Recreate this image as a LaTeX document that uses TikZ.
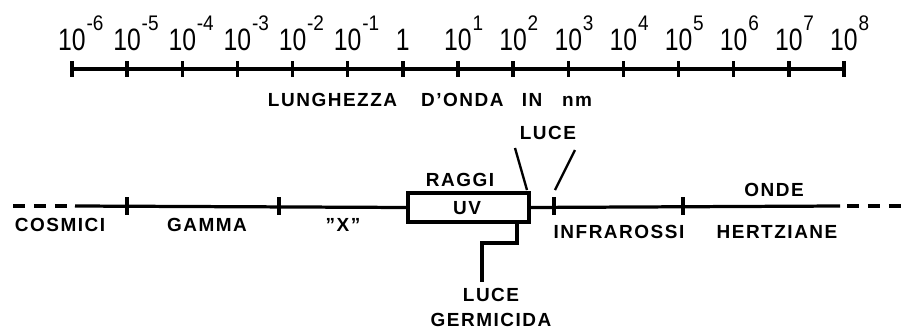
\documentclass[tikz,border=0pt]{standalone}
\usepackage{fontspec}
\usetikzlibrary{positioning,calc}
\newfontfamily\lettering[LetterSpace=8]{Liberation Sans}
\newfontfamily\numfont[FakeStretch=0.8]{Liberation Sans}
\newfontfamily\supfont[FakeStretch=0.9]{Liberation Sans}
\newcommand{\pw}[1]{10\rlap{\kern0.6pt\raisebox{14.2pt}{\supfont\fontsize{15}{15}\selectfont #1}}}

\begin{document}
\begin{tikzpicture}[x=0.025cm, y=-0.025cm,
		axis/.style={line width=2.3pt},
		tickmark/.style={line width=2.4pt},
		thinline/.style={line width=1.7pt},
		dashline/.style={line width=2.3pt, dash pattern=on 8.5pt off 6.4pt},
		lab/.style={font=\lettering\bfseries\fontsize{13.5}{17.8}\selectfont, inner sep=0pt},
		num/.style={font=\numfont\fontsize{22}{22}\selectfont, inner sep=0pt, anchor=base}]
	\useasboundingbox (0,0) rectangle (908,330);
	
	% scala in nm
	\foreach \e [count=\i from 0] in {-6,...,8} {
		\coordinate (t\i) at ({72+\i*55.14},69);
		\draw[tickmark] ({72+\i*55.14},61) -- ({72+\i*55.14},77);
		\ifnum\e=0
			\node[num] (n\i) at ({72+\i*55.14},50) {1};
		\else
			\node[num] (n\i) at ({72+\i*55.14},50) {\pw{\e}};
		\fi
	}
	\draw[axis] (t0) -- (t14);
	\node[lab] (unit) at (430,100) {LUNGHEZZA\hspace{17pt}D’ONDA\hspace{13pt}IN\hspace{14pt}nm};
	
	% spettro
	\node[draw, line width=2.6pt, minimum width=121*0.025cm, minimum height=29*0.025cm,
		inner sep=0pt, outer sep=0pt] (uvbox) at (468.5,207.5) {};
	\node[lab] at (467,208) {UV};
	\coordinate (cl) at (13,206);
	\coordinate (cs) at (75,206);
	\coordinate (ce) at (840,206);
	\coordinate (cr) at (847,206);
	\coordinate (cx) at (905,206);
	\draw[dashline] (cl) -- (cs);
	\draw[axis] (cs) -- (uvbox.west);
	\draw[axis] (uvbox.east) -- (ce);
	\draw[dashline] (cr) -- (cx);
	\foreach \x in {127,279,554,683}
		\draw[tickmark] (\x,197) -- (\x,215);
	
	\node[lab] (cosmici) at (60,225) {COSMICI};
	\node[lab] (gamma) at (207,225) {GAMMA};
	\node[lab] (xray) at (343,225) {”X”};
	\node[lab] (raggi) at (460,180) {RAGGI};
	\node[lab] (luce) at (548,133) {LUCE};
	\node[lab] (ir) at (619,232) {INFRAROSSI};
	\node[lab] (onde) at (774,190) {ONDE};
	\node[lab] (hertz) at (777,232) {HERTZIANE};
	\node[lab, align=center] (germ) at (491,307.5) {LUCE\\GERMICIDA};
	
	\coordinate (la) at (515,148);
	\coordinate (lb) at (527,190);
	\coordinate (lc) at (575,150);
	\coordinate (ld) at (555,190);
	\draw[thinline] (la) -- (lb);
	\draw[thinline] (lc) -- (ld);
	
	\coordinate (gtop) at (517,222);
	\coordinate (gbot) at (482,282);
	\draw[axis] (gtop) -- ++(0,21) -| (gbot);
\end{tikzpicture}
\end{document}
